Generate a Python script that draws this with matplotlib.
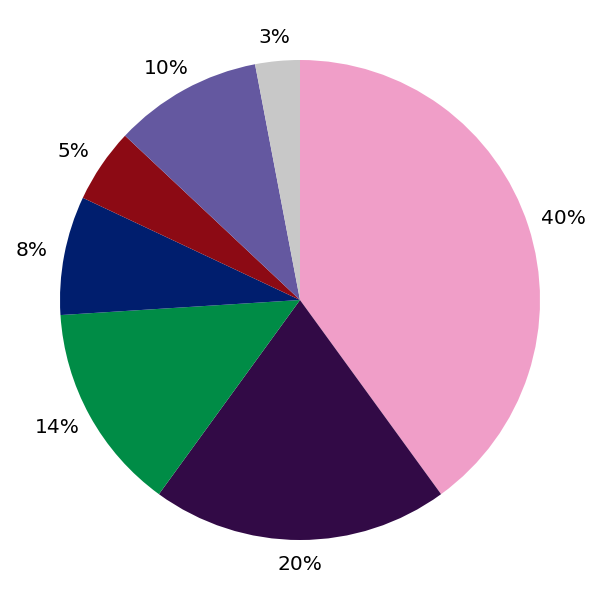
import matplotlib
matplotlib.use("Agg")
import matplotlib.pyplot as plt
import numpy as np

values = [40, 20, 14, 8, 5, 10, 3]
labels = ["40%", "20%", "14%", "8%", "5%", "10%", "3%"]
colors = ["#F09EC8", "#320A46", "#008C46", "#001E6E", "#8C0A14", "#6458A0", "#C8C8C8"]

fig = plt.figure(figsize=(6, 6), dpi=100)
ax = fig.add_axes([0, 0, 1, 1])
wedges, texts = ax.pie(values, labels=labels, colors=colors, startangle=90, counterclock=False,
                       labeldistance=1.1,
                       textprops={"fontsize": 14.5, "ha": "center", "va": "center"})
ax.set_xlim(-1.25, 1.25)
ax.set_ylim(-1.25, 1.25)
ax.set_aspect("equal")
ax.axis("off")

fig.canvas.draw()
renderer = fig.canvas.get_renderer()
px_per_unit = 240.0
for w, t in zip(wedges, texts):
    t.set_horizontalalignment("center")
    ang = np.deg2rad((w.theta1 + w.theta2) / 2)
    bb = t.get_window_extent(renderer)
    dx = 0.3 * bb.width * np.cos(ang) / px_per_unit
    t.set_position((1.1 * np.cos(ang) + dx, 1.1 * np.sin(ang)))

fig.savefig("out.png", dpi=100)
